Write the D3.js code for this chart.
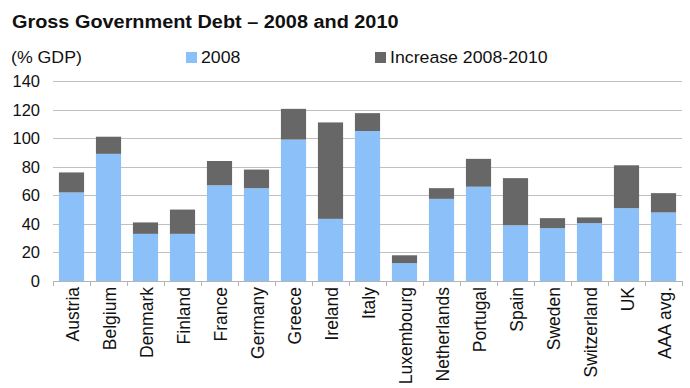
<html>
  <head>
    <script src="https://cdn.jsdelivr.net/npm/d3@7"></script>
    <style type="text/css">
    body { margin: 0; background: #fff; }
    text { font-family: "Liberation Sans", Arial, sans-serif; fill: #111; }
    text.title { font-size: 18.5px; font-weight: bold; }
    text.legend { font-size: 16.5px; }
    .grid line { stroke: #c0c0c0; stroke-width: 1; shape-rendering: crispEdges; }
    .xaxis line, .xaxis path { stroke: #b4b4b4; shape-rendering: crispEdges; }
    </style>
  </head>
  <body>
    <script type="text/javascript">

      var categories = ["Austria", "Belgium", "Denmark", "Finland", "France", "Germany", "Greece",
        "Ireland", "Italy", "Luxembourg", "Netherlands", "Portugal", "Spain", "Sweden",
        "Switzerland", "UK", "AAA avg."];
      var debt2008 = [62, 89, 33, 33, 67, 65, 99, 43.5, 105, 12.5, 57.5, 66, 39, 37, 40.5, 51, 48];
      var increase = [14, 12, 8, 17, 17, 13, 21.5, 67.5, 12.5, 5.5, 7.5, 19.5, 33, 7, 4, 30, 13.5];
      var yTicks = [0, 20, 40, 60, 80, 100, 120, 140];
      var seriesNames = ["2008", "Increase 2008-2010"];
      var colors = ["#8bc0f8", "#676767"];

      var width = 690, height = 388;
      var l = 53, r = 682, t = 81, b = 281;
      var stretch = 1.075; /* the header text of the original is a bit wide */

      var svg = d3.select("body").append("svg")
        .attr("width", width)
        .attr("height", height);

      var x = d3.scaleBand().domain(categories).range([l, r]).paddingInner(0.32).paddingOuter(0.16);
      var y = d3.scaleLinear().domain([0, 140]).range([b, t]);

      function wideText(cls, px, py, txt) {
        return svg.append("text").attr("class", cls)
          .attr("transform", "translate(" + px + "," + py + ") scale(" + stretch + ",1)")
          .text(txt);
      }

      /* title and legend */
      wideText("title", 12, 28, "Gross Government Debt \u2013 2008 and 2010");
      wideText("legend", 11, 63, "(% GDP)");

      var legX = [186, 375];
      seriesNames.forEach(function(n, i) {
        svg.append("rect").attr("x", legX[i]).attr("y", 52).attr("width", 11).attr("height", 11)
          .attr("fill", colors[i]);
        wideText("legend", legX[i] + 15, 63, n);
      });

      /* grid */
      var grid = svg.append("g").attr("class", "grid");
      grid.selectAll("line").data(yTicks.filter(function(d) { return d > 0; }))
        .enter().append("line")
        .attr("x1", l).attr("x2", r)
        .attr("y1", function(d) { return Math.round(y(d)) + 0.5; })
        .attr("y2", function(d) { return Math.round(y(d)) + 0.5; });

      /* y labels */
      svg.selectAll("text.ytick").data(yTicks).enter().append("text")
        .attr("class", "ytick")
        .attr("x", 40).attr("y", function(d) { return y(d); })
        .attr("dy", "0.36em")
        .attr("text-anchor", "end")
        .style("font-size", "16.5px")
        .text(function(d) { return d; });

      /* bars */
      var stacked = categories.map(function(c, i) {
        return [[0, debt2008[i]], [debt2008[i], debt2008[i] + increase[i]]];
      });
      categories.forEach(function(c, i) {
        stacked[i].forEach(function(s, k) {
          svg.append("rect")
            .attr("x", x(c)).attr("width", x.bandwidth())
            .attr("y", y(s[1])).attr("height", y(s[0]) - y(s[1]))
            .attr("fill", colors[k]);
        });
      });

      /* x axis */
      var bounds = d3.range(categories.length + 1).map(function(i) { return l + i * (r - l) / categories.length; });
      var xa = svg.append("g").attr("class", "xaxis");
      xa.append("line").attr("x1", l).attr("x2", r).attr("y1", b + 0.5).attr("y2", b + 0.5);
      xa.selectAll("line.tk").data(bounds).enter().append("line").attr("class", "tk")
        .attr("x1", function(d) { return Math.round(d) + 0.5; })
        .attr("x2", function(d) { return Math.round(d) + 0.5; })
        .attr("y1", b).attr("y2", b + 5);

      svg.selectAll("text.xlab").data(categories).enter().append("text")
        .attr("class", "xlab")
        .attr("transform", function(d) {
          return "translate(" + (x(d) + x.bandwidth() / 2 + 1) + "," + (b + 6) + ") rotate(-90)";
        })
        .attr("dy", "0.36em")
        .attr("text-anchor", "end")
        .style("font-size", "17.5px")
        .text(function(d) { return d; });

    </script>
  </body>
</html>
